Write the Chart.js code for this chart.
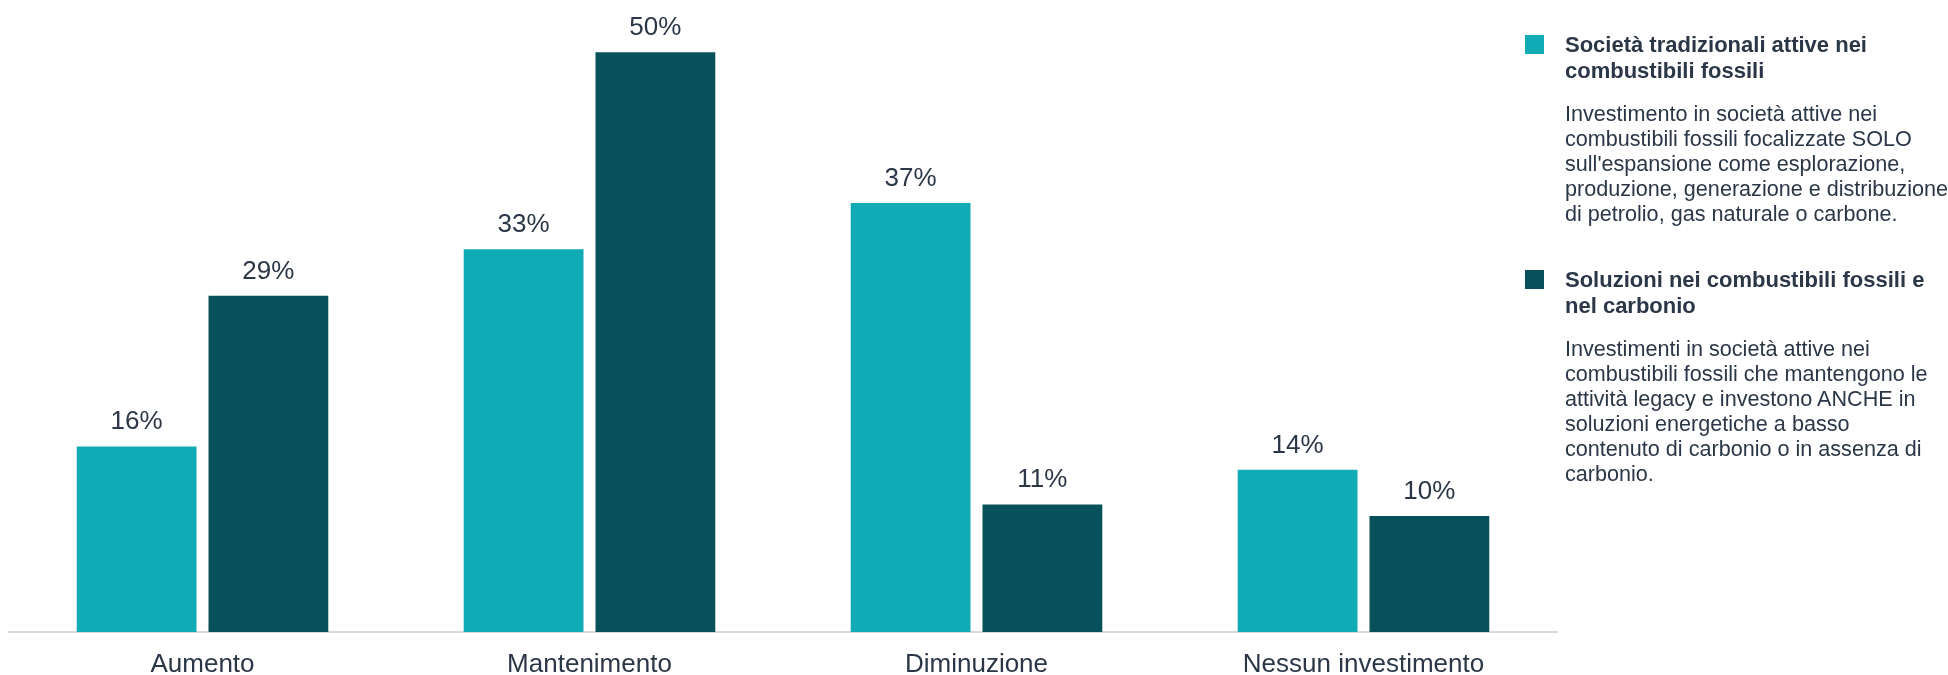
<!DOCTYPE html>
<html lang="it">
<head>
<meta charset="utf-8">
<title>Investimenti nei combustibili fossili</title>
<script src="https://cdn.jsdelivr.net/npm/chart.js@4.4.1/dist/chart.umd.min.js"></script>
<style>
  html, body { margin: 0; padding: 0; background: #fff; }
  body {
    width: 1948px; height: 675px; position: relative; overflow: hidden;
    font-family: "Liberation Sans", Arial, sans-serif; color: #2b3747;
  }
  #wrap { position: absolute; left: 0; top: 0; width: 1566px; height: 675px; }
  #legend { position: absolute; left: 1525px; top: 32px; width: 423px; }
  .item { position: relative; padding-left: 40px; }
  .item + .item { margin-top: 41px; }
  .box { position: absolute; left: 0; top: 3px; width: 19px; height: 19px; }
  .title { font-weight: bold; font-size: 22px; line-height: 26px; white-space: nowrap; }
  .desc { font-size: 21.6px; line-height: 25px; white-space: nowrap; margin-top: 17px; }
</style>
</head>
<body>
<div id="wrap"><canvas id="grafico"></canvas></div>

<div id="legend">
  <div class="item">
    <div class="box" style="background:#11abb6"></div>
    <div class="title">Società tradizionali attive nei<br>combustibili fossili</div>
    <div class="desc">Investimento in società attive nei<br>combustibili fossili focalizzate SOLO<br>sull'espansione come esplorazione,<br>produzione, generazione e distribuzione<br>di petrolio, gas naturale o carbone.</div>
  </div>
  <div class="item">
    <div class="box" style="background:#08515a"></div>
    <div class="title">Soluzioni nei combustibili fossili e<br>nel carbonio</div>
    <div class="desc">Investimenti in società attive nei<br>combustibili fossili che mantengono le<br>attività legacy e investono ANCHE in<br>soluzioni energetiche a basso<br>contenuto di carbonio o in assenza di<br>carbonio.</div>
  </div>
</div>

<script>
"use strict";

const categories = ["Aumento", "Mantenimento", "Diminuzione", "Nessun investimento"];
const tradizionali = [16, 33, 37, 14];
const soluzioni = [29, 50, 11, 10];

const textColor = "#2b3747";
const fontFamily = "'Liberation Sans', Arial, sans-serif";

// scrive la percentuale sopra ogni barra
const etichette = {
    id: "etichette",
    afterDatasetsDraw(chart) {
        const ctx = chart.ctx;
        ctx.save();
        ctx.font = "26px " + fontFamily;
        ctx.fillStyle = textColor;
        ctx.textAlign = "center";
        ctx.textBaseline = "alphabetic";
        chart.data.datasets.forEach((ds, i) => {
            chart.getDatasetMeta(i).data.forEach((bar, j) => {
                ctx.fillText(ds.data[j] + "%", bar.x, bar.y - 17);
            });
        });
        ctx.restore();
    }
};

document.addEventListener("DOMContentLoaded", () => {
    const canvas = document.getElementById("grafico");

    new Chart(canvas, {
        type: "bar",
        data: {
            labels: categories,
            datasets: [{
                label: "Società tradizionali attive nei combustibili fossili",
                data: tradizionali,
                backgroundColor: "#11abb6",
                borderWidth: 0,
                categoryPercentage: 0.681,
                barPercentage: 0.909
            }, {
                label: "Soluzioni nei combustibili fossili e nel carbonio",
                data: soluzioni,
                backgroundColor: "#08515a",
                borderWidth: 0,
                categoryPercentage: 0.681,
                barPercentage: 0.909
            }]
        },
        options: {
            responsive: true,
            maintainAspectRatio: false,
            animation: false,
            layout: { padding: { left: 9, right: 9, top: 0, bottom: 0 } },
            scales: {
                x: {
                    grid: { display: false, drawTicks: false },
                    border: { display: true, color: "#d9d9d9", width: 2 },
                    ticks: {
                        color: textColor,
                        font: { size: 26, family: fontFamily },
                        padding: 17,
                        maxRotation: 0,
                        autoSkip: false
                    },
                    // altezza fissa dell'asse: la linea base resta a 632px
                    afterFit(scale) {
                        scale.height = 43;
                    }
                },
                y: {
                    display: false,
                    min: 0,
                    max: 54.5
                }
            },
            plugins: {
                legend: { display: false },
                tooltip: { enabled: false }
            }
        },
        plugins: [etichette]
    });
});
</script>
</body>
</html>
